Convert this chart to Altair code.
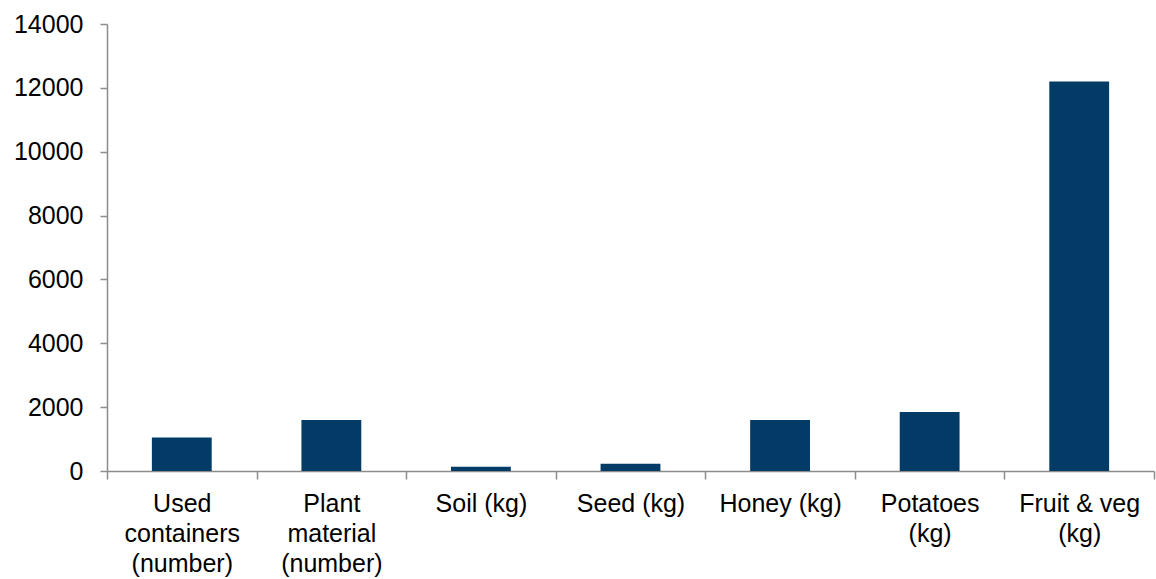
import altair as alt
import pandas as pd

# Items collected, by category (multi-line labels split on "|")
categories = [
    "Used|containers|(number)",
    "Plant|material|(number)",
    "Soil (kg)",
    "Seed (kg)",
    "Honey (kg)",
    "Potatoes|(kg)",
    "Fruit & veg|(kg)",
]
amounts = [1050, 1600, 135, 230, 1600, 1850, 12200]

df = pd.DataFrame({"category": categories, "amount": amounts})

AXIS_GREY = "#8c8c8c"
FONT = "Liberation Sans"

chart = (
    alt.Chart(df)
    .mark_bar(color="#023b66", width=alt.RelativeBandSize(0.4))
    .encode(
        x=alt.X(
            "category:N",
            sort=None,
            title=None,
            scale=alt.Scale(paddingInner=0, paddingOuter=0),
            axis=alt.Axis(
                labelAngle=0,
                labelExpr="split(datum.label, '|')",
                labelFont=FONT,
                labelFontSize=25,
                labelLineHeight=30,
                labelColor="#000000",
                labelPadding=12,
                tickBand="extent",
                tickSize=8,
                tickColor=AXIS_GREY,
                tickWidth=1.5,
                domainColor=AXIS_GREY,
                domainWidth=1.5,
            ),
        ),
        y=alt.Y(
            "amount:Q",
            title=None,
            scale=alt.Scale(domain=[0, 14000], nice=False),
            axis=alt.Axis(
                values=list(range(0, 14001, 2000)),
                grid=False,
                labelFont=FONT,
                labelFontSize=25,
                labelColor="#000000",
                labelPadding=17,
                tickSize=7,
                tickColor=AXIS_GREY,
                tickWidth=1.5,
                domainColor=AXIS_GREY,
                domainWidth=1.5,
                format="d",
            ),
        ),
    )
    .properties(
        width=1047,
        height=447,
        autosize=alt.AutoSizeParams(type="none"),
        padding={"left": 107, "top": 24, "right": 2, "bottom": 108},
    )
    .configure_view(stroke=None)
)

chart.save("out.html", embed_options={"renderer": "svg", "actions": False})
